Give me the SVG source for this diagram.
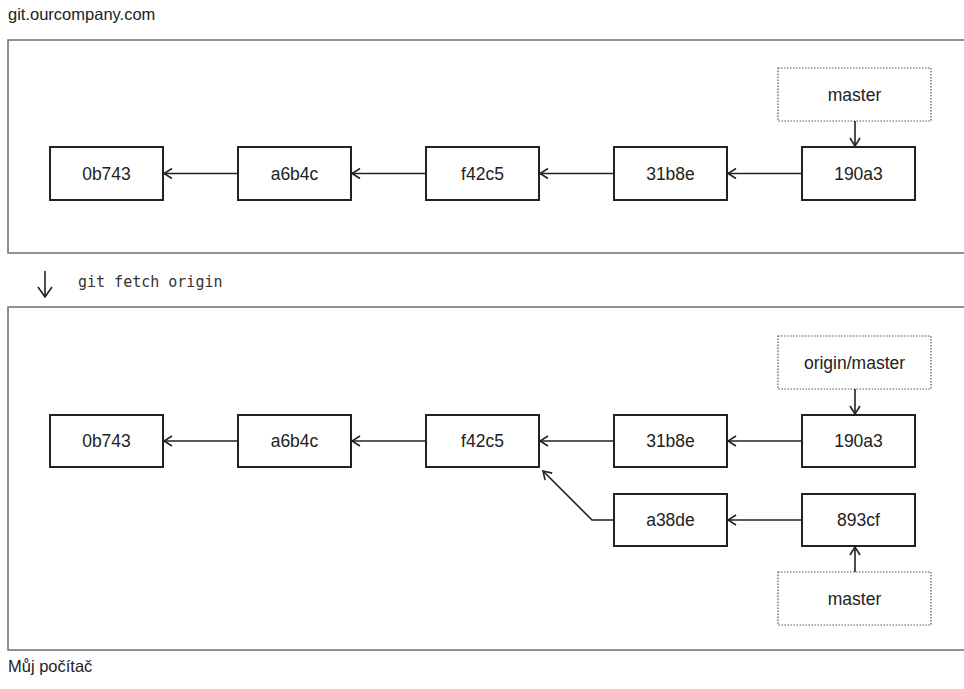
<svg xmlns="http://www.w3.org/2000/svg" width="964" height="689" viewBox="0 0 964 689">
<style>
.frame{fill:#fff;stroke:#6e6e6e;stroke-width:1.5}
.node{fill:#fff;stroke:#222;stroke-width:2}
.ref{fill:#fff;stroke:#555;stroke-width:1.2;stroke-dasharray:1.5 1.5}
.t{font-family:"Liberation Sans",Arial,sans-serif;font-size:17.5px;fill:#222;text-anchor:middle}
.lbl{font-family:"Liberation Sans",Arial,sans-serif;font-size:16.5px;fill:#222}
.mono{font-family:"DejaVu Sans Mono","Liberation Mono",monospace;font-size:15px;fill:#333}
.c{fill:none;stroke:#222;stroke-width:1.6}
</style>
<defs>
<marker id="ah" viewBox="0 0 10 12" refX="9" refY="6" markerWidth="10" markerHeight="12" markerUnits="userSpaceOnUse" orient="auto">
<path d="M1,1 L9,6 L1,11" fill="none" stroke="#222" stroke-width="1.6"/>
</marker>
<marker id="ahb" viewBox="0 0 12 16" refX="11" refY="8" markerWidth="12" markerHeight="16" markerUnits="userSpaceOnUse" orient="auto">
<path d="M1,1 L11,8 L1,15" fill="none" stroke="#222" stroke-width="1.6"/>
</marker>
</defs>
<rect width="964" height="689" fill="#fff"/>
<text class="lbl" x="8" y="20">git.ourcompany.com</text>
<rect class="frame" x="8" y="40" width="970" height="213"/>
<text class="lbl" x="8" y="672">Můj počítač</text>
<rect class="frame" x="8" y="307" width="970" height="343"/>
<g id="fetch-step">
<path class="c" d="M45,271 V297" marker-end="url(#ahb)"/>
<text class="mono" x="78" y="287">git fetch origin</text>
</g>
<g id="r-0b743"><rect class="node" x="50" y="147" width="113" height="53"/><text class="t" x="106.5" y="180">0b743</text></g>
<g id="r-a6b4c"><rect class="node" x="238" y="147" width="113" height="53"/><text class="t" x="294.5" y="180">a6b4c</text></g>
<g id="r-f42c5"><rect class="node" x="426" y="147" width="113" height="53"/><text class="t" x="482.5" y="180">f42c5</text></g>
<g id="r-31b8e"><rect class="node" x="614" y="147" width="113" height="53"/><text class="t" x="670.5" y="180">31b8e</text></g>
<g id="r-190a3"><rect class="node" x="802" y="147" width="113" height="53"/><text class="t" x="858.5" y="180">190a3</text></g>
<g id="r-master"><rect class="ref" x="778" y="68" width="153" height="53"/><text class="t" x="854.5" y="101">master</text></g>
<g id="l-0b743"><rect class="node" x="50" y="415" width="113" height="52"/><text class="t" x="106.5" y="447">0b743</text></g>
<g id="l-a6b4c"><rect class="node" x="238" y="415" width="113" height="52"/><text class="t" x="294.5" y="447">a6b4c</text></g>
<g id="l-f42c5"><rect class="node" x="426" y="415" width="113" height="52"/><text class="t" x="482.5" y="447">f42c5</text></g>
<g id="l-31b8e"><rect class="node" x="614" y="415" width="113" height="52"/><text class="t" x="670.5" y="447">31b8e</text></g>
<g id="l-190a3"><rect class="node" x="802" y="415" width="113" height="52"/><text class="t" x="858.5" y="447">190a3</text></g>
<g id="l-a38de"><rect class="node" x="614" y="494" width="113" height="52"/><text class="t" x="670.5" y="526">a38de</text></g>
<g id="l-893cf"><rect class="node" x="802" y="494" width="113" height="52"/><text class="t" x="858.5" y="526">893cf</text></g>
<g id="l-origin-master"><rect class="ref" x="778" y="336" width="153" height="53"/><text class="t" x="854.5" y="369">origin/master</text></g>
<g id="l-master"><rect class="ref" x="778" y="572" width="153" height="53"/><text class="t" x="854.5" y="605">master</text></g>
<g id="connectors">
<path class="c" d="M238,173.5 H164" marker-end="url(#ah)"/>
<path class="c" d="M426,173.5 H352" marker-end="url(#ah)"/>
<path class="c" d="M614,173.5 H540" marker-end="url(#ah)"/>
<path class="c" d="M802,173.5 H728" marker-end="url(#ah)"/>
<path class="c" d="M855,121 V146" marker-end="url(#ah)"/>
<path class="c" d="M238,441 H164" marker-end="url(#ah)"/>
<path class="c" d="M426,441 H352" marker-end="url(#ah)"/>
<path class="c" d="M614,441 H540" marker-end="url(#ah)"/>
<path class="c" d="M802,441 H728" marker-end="url(#ah)"/>
<path class="c" d="M855,389 V414" marker-end="url(#ah)"/>
<path class="c" d="M802,520 H728" marker-end="url(#ah)"/>
<path class="c" d="M614,520 H592 L543,471" marker-end="url(#ah)"/>
<path class="c" d="M855,572 V547" marker-end="url(#ah)"/>
</g>
</svg>
